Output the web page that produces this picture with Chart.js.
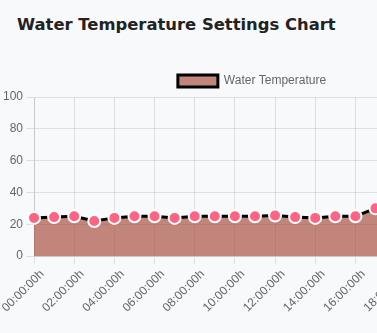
<!DOCTYPE html>
<html>
<head>
<meta charset="utf-8">
<script src="https://cdn.jsdelivr.net/npm/chart.js@4"></script>
<style>
  html, body {
    margin: 0;
    padding: 0;
    background: #f8f9fa;
    overflow: hidden;
    width: 377px;
    height: 333px;
  }
  h2 {
    position: absolute;
    left: 17px;
    top: 15px;
    margin: 0;
    font-family: "DejaVu Sans", sans-serif;
    font-weight: 700;
    font-size: 16.4px;
    color: #222;
  }
  .chart-wrap {
    position: absolute;
    left: 0;
    top: 65px;
    width: 504px;
    height: 253px;
  }
</style>
</head>
<body>
<h2>Water Temperature Settings Chart</h2>
<div class="chart-wrap"><canvas id="tempChart"></canvas></div>
<script>
// hourly set points
const hours = ['00:00:00h', '01:00:00h', '02:00:00h', '03:00:00h', '04:00:00h', '05:00:00h',
  '06:00:00h', '07:00:00h', '08:00:00h', '09:00:00h', '10:00:00h', '11:00:00h',
  '12:00:00h', '13:00:00h', '14:00:00h', '15:00:00h', '16:00:00h', '17:00:00h',
  '18:00:00h', '19:00:00h', '20:00:00h', '21:00:00h', '22:00:00h', '23:00:00h'];
const temperatures = [24, 24.5, 25, 22, 24, 25, 25, 24, 25, 25, 25, 25,
  25.5, 24.5, 24, 25, 25, 30, 28, 27, 26, 25, 25, 24];
const yTicks = [0, 20, 40, 60, 80, 100];

Chart.defaults.font.family = '"Liberation Sans", Arial, sans-serif';
Chart.defaults.font.size = 12;
Chart.defaults.color = '#666';

const ctx = document.getElementById('tempChart');
new Chart(ctx, {
  type: 'line',
  data: {
    labels: hours,
    datasets: [{
      label: 'Water Temperature',
      data: temperatures,
      borderColor: '#000',
      borderWidth: 3,
      backgroundColor: 'rgba(165, 70, 55, 0.65)',
      fill: 'origin',
      tension: 0,
      pointRadius: 6,
      pointBorderWidth: 2,
      pointBackgroundColor: '#ff6384',
      pointBorderColor: '#fff'
    }]
  },
  options: {
    responsive: true,
    maintainAspectRatio: false,
    animation: false,
    plugins: {
      legend: {
        position: 'top',
        labels: { boxWidth: 40 }
      },
      tooltip: { enabled: false }
    },
    scales: {
      x: {
        grid: { color: 'rgba(0,0,0,0.1)' },
        ticks: { maxRotation: 45, minRotation: 45, labelOffset: 8 },
        // let the first slanted label hang under the y axis labels
        afterFit: (scale) => { scale.paddingLeft = 0; }
      },
      y: {
        min: yTicks[0],
        max: yTicks[yTicks.length - 1],
        grid: { color: 'rgba(0,0,0,0.1)' },
        ticks: { stepSize: 20 }
      }
    }
  }
});
</script>
</body>
</html>
